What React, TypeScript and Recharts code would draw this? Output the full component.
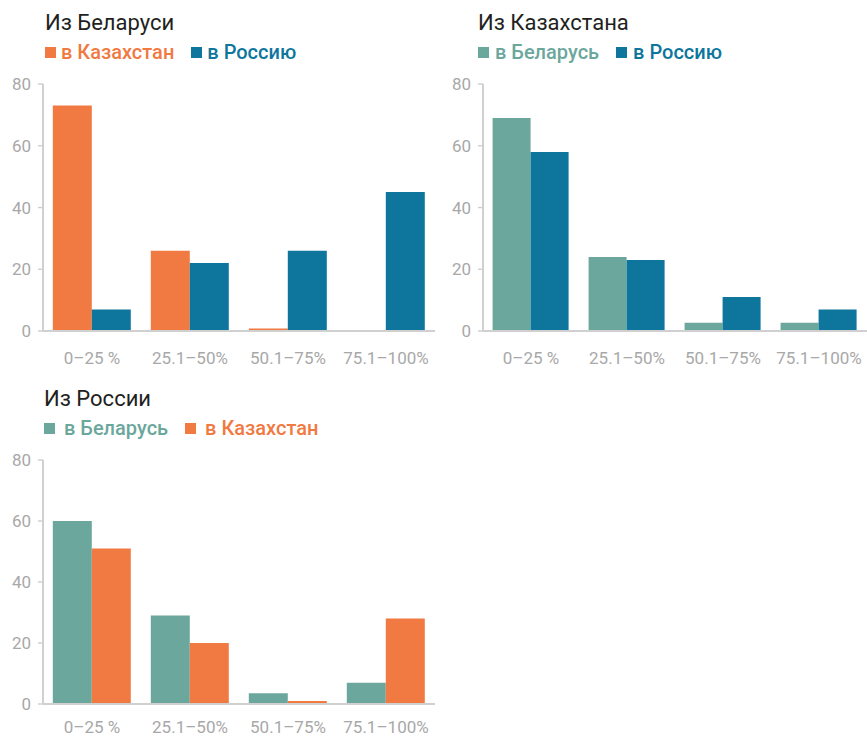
import { BarChart, Bar, XAxis, YAxis, Legend } from 'recharts';

const CATEGORIES = ['0–25 %', '25.1–50%', '50.1–75%', '75.1–100%'];
const Y_TICKS = [0, 20, 40, 60, 80];

// Из Беларуси
const BY_TO_KZ = [73, 26, 0.8, 0];
const BY_TO_RU = [7, 22, 26, 45];
// Из Казахстана
const KZ_TO_BY = [69, 24, 2.7, 2.7];
const KZ_TO_RU = [58, 23, 11, 7];
// Из России
const RU_TO_BY = [60, 29, 3.5, 7];
const RU_TO_KZ = [51, 20, 1, 28];

const ORANGE = '#F07A41';
const BLUE = '#0E769C';
const TEAL = '#6BA79C';
const AXIS = '#d0d0d0';
const TICK = '#a8a8a8';
const FONT = 'Roboto, "DejaVu Sans", sans-serif';

interface Series {
  key: string;
  name: string;
  color: string;
  values: number[];
}

interface PanelProps {
  title: string;
  series: Series[];
  left: number;
  top: number;
  width: number;
  height: number;
  marginRight: number;
  marginBottom: number;
  iconGap: number;
  textLeft: number;
  xTickMargin: number;
}

function Panel({
  title,
  series,
  left,
  top,
  width,
  height,
  marginRight,
  marginBottom,
  iconGap,
  textLeft,
  xTickMargin,
}: PanelProps) {
  const data = CATEGORIES.map((c, i) => {
    const row: Record<string, string | number> = { cat: c };
    series.forEach((s) => {
      row[s.key] = s.values[i];
    });
    return row;
  });

  const renderLegend = () => (
    <div style={{ display: 'flex', alignItems: 'baseline', fontFamily: FONT }}>
      {series.map((s) => (
        <div key={s.key} style={{ display: 'flex', alignItems: 'flex-end', marginRight: 17 }}>
          <span
            style={{
              display: 'inline-block',
              width: 11,
              height: 11,
              background: s.color,
              marginRight: iconGap,
              marginBottom: 4,
            }}
          />
          <span style={{ color: s.color, fontSize: 20, fontWeight: 500, lineHeight: '20px' }}>{s.name}</span>
        </div>
      ))}
    </div>
  );

  return (
    <div style={{ position: 'absolute', left, top, width, height }}>
      <div
        style={{
          position: 'absolute',
          left: textLeft,
          top: 12,
          fontFamily: FONT,
          fontSize: 22,
          lineHeight: '22px',
          color: '#231f20',
          whiteSpace: 'nowrap',
        }}
      >
        {title}
      </div>
      <BarChart
        width={width}
        height={height}
        data={data}
        margin={{ top: 84, right: marginRight, bottom: marginBottom, left: 0 }}
        barCategoryGap="10%"
        barGap={0}
      >
        <Legend
          verticalAlign="middle"
          layout="horizontal"
          content={renderLegend}
          wrapperStyle={{ top: 42, left: textLeft, width: 'auto' }}
        />
        <XAxis
          dataKey="cat"
          height={30}
          tickLine={false}
          tickSize={0}
          tickMargin={xTickMargin}
          axisLine={{ stroke: AXIS, strokeWidth: 2 }}
          tick={{ fill: TICK, fontSize: 17, fontFamily: FONT }}
          interval={0}
        />
        <YAxis
          width={43}
          domain={[0, 80]}
          ticks={Y_TICKS}
          tickSize={5}
          tickMargin={7}
          axisLine={{ stroke: AXIS, strokeWidth: 2 }}
          tickLine={{ stroke: AXIS, strokeWidth: 1.5 }}
          tick={{ fill: TICK, fontSize: 17, fontFamily: FONT }}
        />
        {series.map((s) => (
          <Bar key={s.key} dataKey={s.key} name={s.name} fill={s.color} isAnimationActive={false} />
        ))}
      </BarChart>
    </div>
  );
}

export default function App() {
  return (
    <div style={{ position: 'absolute', left: 0, top: 0, width: 867, height: 738, background: '#fff' }}>
      <Panel
        title="Из Беларуси"
        series={[
          { key: 'kz', name: 'в Казахстан', color: ORANGE, values: BY_TO_KZ },
          { key: 'ru', name: 'в Россию', color: BLUE, values: BY_TO_RU },
        ]}
        left={0}
        top={0}
        width={440}
        height={380}
        marginRight={5}
        marginBottom={19}
        iconGap={5}
        textLeft={45}
        xTickMargin={21}
      />
      <Panel
        title="Из Казахстана"
        series={[
          { key: 'by', name: 'в Беларусь', color: TEAL, values: KZ_TO_BY },
          { key: 'ru', name: 'в Россию', color: BLUE, values: KZ_TO_RU },
        ]}
        left={440}
        top={0}
        width={427}
        height={380}
        marginRight={0}
        marginBottom={19}
        iconGap={6}
        textLeft={38}
        xTickMargin={21}
      />
      <Panel
        title="Из России"
        series={[
          { key: 'by', name: 'в Беларусь', color: TEAL, values: RU_TO_BY },
          { key: 'kz', name: 'в Казахстан', color: ORANGE, values: RU_TO_KZ },
        ]}
        left={0}
        top={376}
        width={440}
        height={362}
        marginRight={5}
        marginBottom={4}
        iconGap={9}
        textLeft={44}
        xTickMargin={17}
      />
    </div>
  );
}
